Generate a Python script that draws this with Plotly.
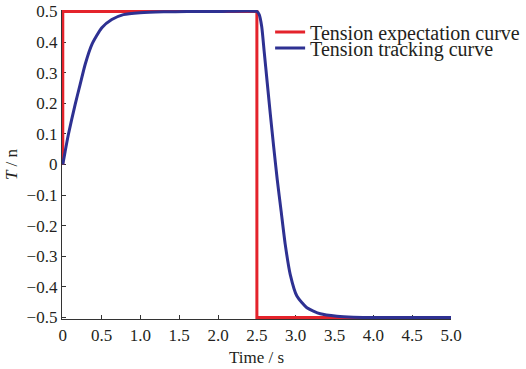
import plotly.graph_objects as go

# Expected tension (step profile)
exp_t = [0, 0, 2.5, 2.5, 5.0]
exp_v = [0, 0.5, 0.5, -0.5, -0.5]

# Tracked tension
trk_t = [0, 0.030, 0.072, 0.159, 0.223, 0.288, 0.374, 0.503, 0.631, 0.781, 0.996, 1.3, 1.6, 2.0, 2.5,
         2.53, 2.562, 2.594, 2.633, 2.672, 2.717, 2.762, 2.813, 2.865, 2.929, 3.015, 3.144, 3.316,
         3.531, 3.741, 4.09, 4.5, 5.0]
trk_v = [0, 0.042, 0.098, 0.196, 0.261, 0.327, 0.392, 0.447, 0.474, 0.490, 0.496, 0.499, 0.5, 0.5, 0.5,
         0.490, 0.451, 0.369, 0.268, 0.167, 0.056, -0.049, -0.154, -0.261, -0.359, -0.430, -0.468, -0.488,
         -0.496, -0.499, -0.5, -0.5, -0.5]

x_ticks = [0, 0.5, 1.0, 1.5, 2.0, 2.5, 3.0, 3.5, 4.0, 4.5, 5.0]
x_labels = ["0", "0.5", "1.0", "1.5", "2.0", "2.5", "3.0", "3.5", "4.0", "4.5", "5.0"]
y_ticks = [0.5, 0.4, 0.3, 0.2, 0.1, 0, -0.1, -0.2, -0.3, -0.4, -0.5]
y_labels = ["0.5", "0.4", "0.3", "0.2", "0.1", "0", "\u22120.1", "\u22120.2", "\u22120.3", "\u22120.4", "\u22120.5"]

RED = "#e4232b"
BLUE = "#2e3192"
TXT = "#231f20"
FONT = "Liberation Serif, Times New Roman, serif"

fig = go.Figure()
fig.add_trace(go.Scatter(x=exp_t, y=exp_v, mode="lines", name="Tension expectation curve",
                         line=dict(color=RED, width=3), legend="legend"))
fig.add_trace(go.Scatter(x=trk_t, y=trk_v, mode="lines", name="Tension tracking curve",
                         line=dict(color=BLUE, width=3, shape="spline", smoothing=0.6),
                         legend="legend2"))

leg_common = dict(xanchor="left", yanchor="middle", bgcolor="rgba(0,0,0,0)",
                  font=dict(family=FONT, size=20, color=TXT), itemwidth=30,
                  borderwidth=0)

fig.update_layout(
    width=526, height=369,
    margin=dict(l=62, r=75, t=10, b=50, autoexpand=False),
    paper_bgcolor="white", plot_bgcolor="white",
    showlegend=True,
    font=dict(family=FONT, size=17, color=TXT),
    legend=dict(x=0.535, y=0.929, **leg_common),
    legend2=dict(x=0.535, y=0.877, **leg_common),
    xaxis=dict(range=[-0.01, 5.0], tickvals=x_ticks, ticktext=x_labels, showline=True,
               linecolor="#333", linewidth=1.3, ticks="inside", ticklen=4, tickcolor="#333",
               showgrid=False, zeroline=False, mirror=False, layer="below traces",
               tickfont=dict(family=FONT, size=17, color=TXT),
               title=dict(text="Time / s", font=dict(family=FONT, size=17, color=TXT), standoff=7)),
    yaxis=dict(range=[-0.505, 0.505], tickvals=y_ticks, ticktext=y_labels, showline=True,
               linecolor="#333", linewidth=1.3, ticks="inside", ticklen=4, tickcolor="#333",
               showgrid=False, zeroline=False, mirror=False, layer="below traces",
               tickfont=dict(family=FONT, size=17, color=TXT),
               title=dict(text="<i>T</i> / n", font=dict(family=FONT, size=17, color=TXT), standoff=4)),
)

fig.write_html("out.html")
